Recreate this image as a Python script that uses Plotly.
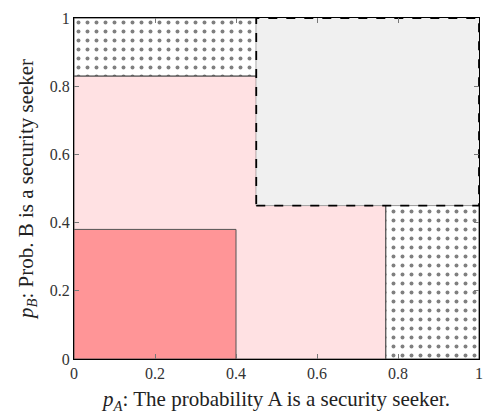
import plotly.graph_objects as go

# Region boundaries (probabilities)
red_x = [0, 0.40, 0.40, 0, 0]
red_y = [0, 0, 0.38, 0.38, 0]

pink_x = [0, 0.77, 0.77, 0.45, 0.45, 0, 0]
pink_y = [0, 0, 0.45, 0.45, 0.83, 0.83, 0]

dot_tl_x = [0, 0.45, 0.45, 0, 0]
dot_tl_y = [0.83, 0.83, 1, 1, 0.83]

dot_br_x = [0.77, 1, 1, 0.77, 0.77]
dot_br_y = [0, 0, 0.45, 0.45, 0]

gray_x = [0.45, 1, 1, 0.45, 0.45]
gray_y = [0.45, 0.45, 1, 1, 0.45]

tick_vals = [0, 0.2, 0.4, 0.6, 0.8, 1]
tick_text = ["0", "0.2", "0.4", "0.6", "0.8", "1"]

FONT = "Liberation Serif"

fig = go.Figure()
fig.add_trace(go.Scatter(x=pink_x, y=pink_y, fill="toself", mode="lines",
                         fillcolor="#FFE1E3", line=dict(color="#555555", width=1),
                         hoverinfo="skip", showlegend=False))
fig.add_trace(go.Scatter(x=red_x, y=red_y, fill="toself", mode="lines",
                         fillcolor="#FF9597", line=dict(color="#555555", width=1),
                         hoverinfo="skip", showlegend=False))
for xs, ys in [(dot_tl_x, dot_tl_y), (dot_br_x, dot_br_y)]:
    fig.add_trace(go.Scatter(x=xs, y=ys, fill="toself", mode="lines",
                             fillcolor="white",
                             fillpattern=dict(shape=".", fgcolor="black", bgcolor="white",
                                              size=9, solidity=0.15),
                             line=dict(color="#444444", width=1),
                             hoverinfo="skip", showlegend=False))
fig.add_trace(go.Scatter(x=gray_x, y=gray_y, fill="toself", mode="lines",
                         fillcolor="#F0F0F0", line=dict(color="black", width=1.8, dash="dash"),
                         hoverinfo="skip", showlegend=False))

axis_common = dict(range=[0, 1], tickvals=tick_vals, ticktext=tick_text,
                   ticks="inside", ticklen=5, tickcolor="#777777", tickwidth=1,
                   showgrid=False, zeroline=False, showline=True, linecolor="black",
                   linewidth=1, mirror="ticks", ticklabeloverflow="allow",
                   tickfont=dict(family=FONT, size=16, color="#333333"))

fig.update_layout(
    width=485, height=414,
    margin=dict(l=74, r=2, t=18, b=55),
    paper_bgcolor="white", plot_bgcolor="white",
    xaxis=dict(**axis_common,
               title=dict(text="<i>p<sub>A</sub></i>: The probability A is a security seeker.",
                          font=dict(family=FONT, size=21, color="#222222"), standoff=10)),
    yaxis=dict(**axis_common,
               title=dict(text="<i>p<sub>B</sub></i>: Prob. B is a security seeker",
                          font=dict(family=FONT, size=21, color="#222222"), standoff=10)),
)

fig.write_html("out.html", config={"displayModeBar": False},
               post_script="document.body.style.margin='0';")
